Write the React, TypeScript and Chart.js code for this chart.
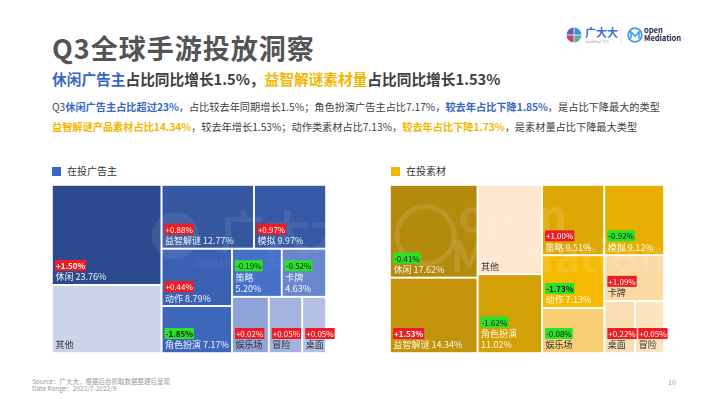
import React, { useEffect, useRef } from 'react';
import { Chart, registerables } from 'chart.js';

Chart.register(...registerables);

const FONT = '"Noto Sans CJK SC", "Noto Sans", sans-serif';

// ---- 在投广告主 (advertisers) ----
const advCategories = ['休闲', '其他', '益智解谜', '模拟', '动作', '角色扮演', '策略', '卡牌', '娱乐场', '冒险', '桌面'];
const advShares = [23.76, 16.21, 12.77, 9.97, 8.79, 7.17, 5.2, 4.63, 4.5, 4.1, 2.9];
const advShareShown = [true, false, true, true, true, true, true, true, false, false, false];
const advChanges: (number | null)[] = [1.5, null, 0.88, 0.97, 0.44, -1.85, -0.19, -0.52, 0.02, 0.05, 0.05];
const advHighlight = [true, false, false, false, false, true, false, false, false, false, false];

// ---- 在投素材 (creatives) ----
const matCategories = ['休闲', '益智解谜', '其他', '角色扮演', '策略', '模拟', '动作', '娱乐场', '卡牌', '桌面', '冒险'];
const matShares = [17.62, 14.34, 12.5, 11.02, 9.51, 9.12, 7.13, 6.1, 5.9, 3.5, 3.26];
const matShareShown = [true, true, false, true, true, true, true, false, false, false, false];
const matChanges: (number | null)[] = [-0.41, 1.53, null, -1.62, 1.0, -0.92, -1.73, -0.08, 1.09, 0.22, 0.05];
const matHighlight = [false, true, false, false, false, false, true, false, false, false, false];

// ---- styles ----
const advColors = ['#2C4B8E', '#CCD4EA', '#34579F', '#3659A5', '#3A61B2', '#3E67BC', '#4671C8', '#6A87CD', '#8FA3D7', '#A3B3DE', '#B4C1E4'];
const advDarkText = [false, true, false, false, false, false, false, false, true, true, true];
const matColors = ['#B48A0C', '#C3940A', '#FDE7CE', '#D3A006', '#DEA804', '#E8AF03', '#F6BA00', '#F8CE74', '#FAD9A2', '#FBDFB4', '#FCE4C0'];
const matDarkText = [false, false, true, false, false, false, false, true, true, true, true];

type Rect = { x: number; y: number; w: number; h: number };

function squarify(vals: number[], W: number, H: number): Rect[] {
  const idx = vals.map((_, i) => i).sort((a, b) => vals[b] - vals[a]);
  const total = vals.reduce((s, v) => s + v, 0);
  const k = (W * H) / total;
  const out: Rect[] = new Array(vals.length);
  let rx = 0, ry = 0, rw = W, rh = H;
  const worst = (row: number[], s: number) => {
    const sum = row.reduce((a, b) => a + b, 0);
    const mx = Math.max(...row), mn = Math.min(...row);
    return Math.max((s * s * mx) / (sum * sum), (sum * sum) / (s * s * mn));
  };
  let i = 0;
  while (i < idx.length) {
    const s = Math.min(rw, rh);
    const row = [vals[idx[i]] * k];
    let j = i + 1;
    while (j < idx.length) {
      const cand = [...row, vals[idx[j]] * k];
      if (worst(cand, s) <= worst(row, s)) {
        row.push(vals[idx[j]] * k);
        j++;
      } else break;
    }
    const sum = row.reduce((a, b) => a + b, 0);
    if (rw >= rh) {
      const cw = sum / rh;
      let cy = ry;
      for (let t = i; t < j; t++) {
        const ch = (vals[idx[t]] * k) / cw;
        out[idx[t]] = { x: rx, y: cy, w: cw, h: ch };
        cy += ch;
      }
      rx += cw;
      rw -= cw;
    } else {
      const chh = sum / rw;
      let cx = rx;
      for (let t = i; t < j; t++) {
        const cw = (vals[idx[t]] * k) / chh;
        out[idx[t]] = { x: cx, y: ry, w: cw, h: chh };
        cx += cw;
      }
      ry += chh;
      rh -= chh;
    }
    i = j;
  }
  return out;
}

const treemapPlugin = {
  id: 'treemap',
  afterDatasetsDraw(chart: any, _args: any, opts: any) {
    const { ctx, chartArea, scales } = chart;
    const xs = scales.x, ys = scales.y;
    const W = chartArea.right - chartArea.left;
    const H = chartArea.bottom - chartArea.top;
    const rects = squarify(opts.values, W, H);
    const px = rects.map((r) => ({
      x0: xs.getPixelForValue(r.x / W),
      x1: xs.getPixelForValue((r.x + r.w) / W),
      y0: ys.getPixelForValue(r.y / H),
      y1: ys.getPixelForValue((r.y + r.h) / H),
    }));
    ctx.save();
    px.forEach((p, i) => {
      ctx.fillStyle = opts.colors[i];
      ctx.fillRect(p.x0, p.y0, p.x1 - p.x0, p.y1 - p.y0);
    });
    ctx.strokeStyle = '#ffffff';
    ctx.lineWidth = 1.6;
    px.forEach((p) => {
      ctx.strokeRect(p.x0, p.y0, p.x1 - p.x0, p.y1 - p.y0);
    });

    // watermark
    if (opts.watermark) opts.watermark(ctx, chartArea);

    ctx.textBaseline = 'middle';
    ctx.textAlign = 'left';
    px.forEach((p, i) => {
      const w = p.x1 - p.x0;
      const name = opts.labels[i];
      const valueStr = opts.shown[i] ? opts.values[i].toFixed(2) + '%' : null;
      ctx.font = `9px ${FONT}`;
      const lines: string[] = [];
      if (valueStr) {
        const full = name + ' ' + valueStr;
        if (ctx.measureText(full).width > w - 6) lines.push(name, valueStr);
        else lines.push(full);
      } else lines.push(name);
      ctx.fillStyle = opts.dark[i] ? '#333333' : 'rgba(255,255,255,0.92)';
      let cy = p.y1 - 8;
      for (let k = lines.length - 1; k >= 0; k--) {
        ctx.fillText(lines[k], p.x0 + 3.5, cy);
        cy -= 11.5;
      }
      const ch = opts.changes[i];
      if (ch !== null && ch !== undefined) {
        const txt = (ch >= 0 ? '+' : '') + ch.toFixed(2) + '%';
        ctx.font = `${opts.highlight[i] ? 'bold ' : ''}8px ${FONT}`;
        const tw = ctx.measureText(txt).width;
        ctx.fillStyle = ch >= 0 ? '#EE1C25' : '#2BE22B';
        ctx.fillRect(p.x0 + 3, cy - 5.5, tw + 2, 11);
        ctx.fillStyle = ch >= 0 ? '#ffffff' : '#1a1a1a';
        ctx.fillText(txt, p.x0 + 4, cy + 0.5);
      }
    });
    ctx.restore();
  },
};

function wmLeft(ctx: CanvasRenderingContext2D, a: any) {
  const W = a.right - a.left, H = a.bottom - a.top;
  ctx.save();
  ctx.fillStyle = 'rgba(255,255,255,0.08)';
  ctx.beginPath();
  ctx.arc(a.left + W * 0.45, a.top + H * 0.3, H * 0.14, 0, Math.PI * 2);
  ctx.fill();
  ctx.font = `bold ${H * 0.27}px ${FONT}`;
  ctx.textBaseline = 'middle';
  ctx.fillText('广大大', a.left + W * 0.61, a.top + H * 0.28);
  ctx.font = `${H * 0.07}px ${FONT}`;
  ctx.fillText('SocialPeta 广大大', a.left + W * 0.52, a.top + H * 0.46);
  ctx.restore();
}

function wmRight(ctx: CanvasRenderingContext2D, a: any) {
  const W = a.right - a.left, H = a.bottom - a.top;
  ctx.save();
  ctx.strokeStyle = 'rgba(255,255,255,0.11)';
  ctx.lineWidth = 5;
  ctx.beginPath();
  ctx.arc(a.left + W * 0.13, a.top + H * 0.3, H * 0.17, 0, Math.PI * 2);
  ctx.stroke();
  ctx.fillStyle = 'rgba(255,255,255,0.11)';
  ctx.font = `bold ${H * 0.26}px ${FONT}`;
  ctx.textBaseline = 'middle';
  ctx.fillText('open', a.left + W * 0.25, a.top + H * 0.18);
  ctx.fillText('Mediation', a.left + W * 0.22, a.top + H * 0.42);
  ctx.restore();
}

type TreemapProps = {
  left: number;
  top: number;
  label: string;
  labels: string[];
  values: number[];
  shown: boolean[];
  changes: (number | null)[];
  highlight: boolean[];
  colors: string[];
  dark: boolean[];
  padLeft: number;
  watermark: (ctx: CanvasRenderingContext2D, a: any) => void;
};

function Treemap(p: TreemapProps) {
  const ref = useRef<HTMLCanvasElement | null>(null);
  useEffect(() => {
    if (!ref.current) return;
    const chart = new Chart(ref.current, {
      type: 'scatter',
      data: { datasets: [{ label: p.label, data: [] }] },
      options: {
        animation: false,
        responsive: false,
        devicePixelRatio: 1,
        events: [],
        layout: { padding: { left: p.padLeft, top: 7, right: 300 - p.padLeft - 274, bottom: 10 } },
        scales: {
          x: { type: 'linear', min: 0, max: 1, display: false },
          y: { type: 'linear', min: 0, max: 1, reverse: true, display: false },
        },
        plugins: {
          legend: { display: false },
          tooltip: { enabled: false },
          treemap: {
            labels: p.labels,
            values: p.values,
            shown: p.shown,
            changes: p.changes,
            highlight: p.highlight,
            colors: p.colors,
            dark: p.dark,
            watermark: p.watermark,
          },
        } as any,
      },
      plugins: [treemapPlugin as any],
    });
    return () => chart.destroy();
  }, []);
  return (
    <canvas
      ref={ref}
      width={300}
      height={185}
      style={{ position: 'absolute', left: p.left, top: p.top, width: 300, height: 185 }}
    />
  );
}

const abs = (left: number, top: number, extra: React.CSSProperties = {}): React.CSSProperties => ({
  position: 'absolute',
  left,
  top,
  whiteSpace: 'nowrap',
  ...extra,
});

const BLUE = '#3A67C4';
const GOLD = '#F3B700';
const GRAY = '#404040';

export default function App() {
  return (
    <div
      style={{
        position: 'absolute',
        left: 0,
        top: 0,
        width: 710,
        height: 399,
        background: '#ffffff',
        overflow: 'hidden',
        fontFamily: FONT,
      }}
    >
      {/* logos */}
      <svg style={{ position: 'absolute', left: 560, top: 20 }} width={130} height={30}>
        <path d="M14 15 L14 7.5 A7.5 7.5 0 0 0 6.5 15 Z" fill="#6C5BB8" />
        <path d="M14 15 L6.5 15 A7.5 7.5 0 0 0 14 22.5 Z" fill="#C4427C" />
        <path d="M14 15 L14 7.5 A7.5 7.5 0 0 1 21.5 15 Z" fill="#3C8FE0" />
        <path d="M14 15 L21.5 15 A7.5 7.5 0 0 1 14 22.5 Z" fill="#55B89B" />
        <line x1={6} y1={15} x2={22} y2={15} stroke="#fff" strokeWidth={0.8} />
        <line x1={14} y1={7} x2={14} y2={23} stroke="#fff" strokeWidth={0.8} />
        <text x={25} y={16.5} fontSize={11} fontWeight="bold" fill="#3B6FD6" fontFamily={FONT}>广大大</text>
        <text x={25} y={22.5} fontSize={3} fill="#999" fontFamily={FONT}>SocialPeta 广大大</text>
        <line x1={61} y1={7} x2={61} y2={24} stroke="#dddddd" strokeWidth={0.8} />
        <circle cx={75} cy={15} r={6.8} fill="none" stroke="#3AA0E6" strokeWidth={1.8} />
        <path d="M71 18.5 L71 12 L75 16 L79 12 L79 18.5" fill="none" stroke="#3AA0E6" strokeWidth={1.6} />
        <text x={84} y={13} fontSize={7.5} fontWeight="bold" fill="#1C2B50" fontFamily={FONT}>open</text>
        <text x={84} y={20.5} fontSize={7.5} fontWeight="bold" fill="#1C2B50" fontFamily={FONT}>Mediation</text>
      </svg>

      {/* title */}
      <div style={abs(52, 33.5, { fontSize: 27, lineHeight: '27px', fontWeight: 700, color: '#545454', letterSpacing: 1 })}>
        Q3全球手游投放洞察
      </div>

      {/* subtitle */}
      <div style={abs(52, 71, { fontSize: 14.7, lineHeight: '16px', fontWeight: 700, color: GRAY })}>
        <span style={{ color: BLUE }}>休闲广告主</span>占比同比增长1.5%，
        <span style={{ color: GOLD }}>益智解谜素材量</span>占比同比增长1.53%
      </div>

      {/* body */}
      <div style={abs(52, 100.5, { fontSize: 10.2, lineHeight: '11px', color: GRAY })}>
        Q3<b style={{ color: BLUE }}>休闲广告主占比超过23%</b>，占比较去年同期增长1.5%；角色扮演广告主占比7.17%，
        <b style={{ color: BLUE }}>较去年占比下降1.85%</b>，是占比下降最大的类型
      </div>
      <div style={abs(52, 120.5, { fontSize: 10.2, lineHeight: '11px', color: GRAY })}>
        <b style={{ color: GOLD }}>益智解谜产品素材占比14.34%</b>，较去年增长1.53%；动作类素材占比7.13%，
        <b style={{ color: GOLD }}>较去年占比下降1.73%</b>，是素材量占比下降最大类型
      </div>

      {/* legends */}
      <div style={abs(52, 167, { width: 9, height: 9, background: '#3A65C0' })} />
      <div style={abs(67, 166, { fontSize: 10, lineHeight: '10px', color: '#333' })}>在投广告主</div>
      <div style={abs(391, 167, { width: 9, height: 9, background: '#F5B800' })} />
      <div style={abs(406, 166, { fontSize: 10, lineHeight: '10px', color: '#333' })}>在投素材</div>

      <Treemap
        left={40}
        top={178}
        label="在投广告主"
        labels={advCategories}
        values={advShares}
        shown={advShareShown}
        changes={advChanges}
        highlight={advHighlight}
        colors={advColors}
        dark={advDarkText}
        padLeft={12}
        watermark={wmLeft}
      />
      <Treemap
        left={380}
        top={178}
        label="在投素材"
        labels={matCategories}
        values={matShares}
        shown={matShareShown}
        changes={matChanges}
        highlight={matHighlight}
        colors={matColors}
        dark={matDarkText}
        padLeft={10}
        watermark={wmRight}
      />

      {/* footer */}
      <div style={abs(32, 377.5, { fontSize: 6.5, lineHeight: '7px', color: '#9a9a9a' })}>
        Source：广大大，根据后台抓取数据整理后呈现
      </div>
      <div style={abs(32, 384.5, { fontSize: 6.5, lineHeight: '7px', color: '#9a9a9a' })}>
        Date Range：2022/7-2022/9
      </div>
      <div style={abs(668, 378.5, { fontSize: 7, lineHeight: '7px', color: '#9a9a9a' })}>10</div>
    </div>
  );
}
